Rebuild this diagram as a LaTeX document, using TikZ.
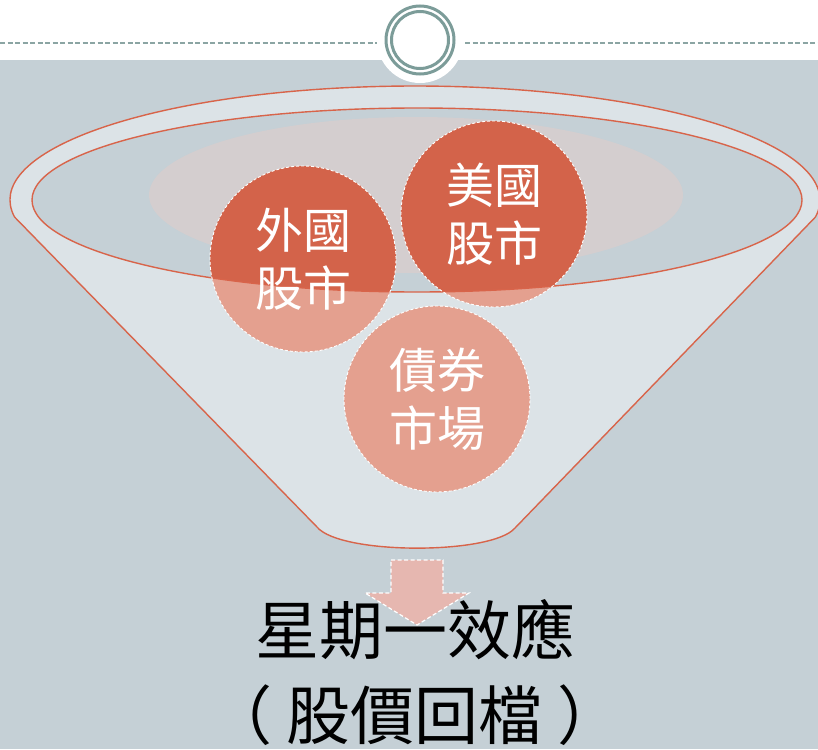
\documentclass[tikz,border=0pt]{standalone}
\usepackage{fontspec}
\newfontfamily\cjk{Noto Sans CJK TC}
\definecolor{bgcol}{HTML}{C5D0D6}
\definecolor{funnelfill}{HTML}{DCE3E7}
\definecolor{funnelline}{HTML}{D8644A}
\definecolor{glowcol}{HTML}{D4CECF}
\definecolor{darkbubble}{HTML}{D3634A}
\definecolor{lightbubble}{HTML}{E4A08F}
\definecolor{arrowcol}{HTML}{E6B7B0}
\definecolor{ringcol}{HTML}{7C9C99}
\definecolor{dashcol}{HTML}{8BA5A3}
\begin{document}
\begin{tikzpicture}[x=1pt,y=-1pt,
  topdash/.style={draw=dashcol,line width=1.5pt,dash pattern=on 5pt off 2.5pt},
  ringline/.style={draw=ringcol,line width=3pt},
  rimline/.style={draw=funnelline,line width=1.4pt},
  bubble/.style={circle,minimum size=186pt,inner sep=0pt,draw=white,line width=0.9pt,
    dash pattern=on 3pt off 2pt,text=white,align=center,
    font=\cjk\fontsize{48}{58}\selectfont},
  whitedash/.style={draw=white,line width=1.2pt,dash pattern=on 4pt off 2.5pt}]
\useasboundingbox (0,0) rectangle (818,749);
% page background
\fill[white] (0,0) rectangle (818,749);
\fill[bgcol] (0,60) rectangle (818,749);
% header rule and medallion
\draw[topdash] (0,43) -- (818,43);
\fill[white] (420,40) circle (43);
\draw[ringline] (420,40) circle (34);
\draw[ringline] (420,40) circle (28.5);
% bubble centres
\coordinate (cW) at (303,259);
\coordinate (cU) at (494,214);
\coordinate (cB) at (437,399);
% funnel body
\draw[rimline,fill=funnelfill] (415,200) ++(171.4:405 and 114)
  arc[start angle=171.4,end angle=368.6,x radius=405,y radius=114]
  -- (515,528) .. controls (492,555) and (340,555) .. (317,527) -- cycle;
% funnel mouth
\fill[bgcol] (417,200) ellipse[x radius=385,y radius=92];
\begin{scope}
  \clip (417,200) ellipse[x radius=385,y radius=92];
  \fill[glowcol] (416,195) ellipse[x radius=267,y radius=78];
\end{scope}
% bubble fills: pale where the funnel body is in front, strong inside the mouth
\fill[lightbubble] (cW) circle (93);
\fill[lightbubble] (cU) circle (93);
\fill[lightbubble] (cB) circle (93);
\begin{scope}
  \clip (417,200) ellipse[x radius=385,y radius=92];
  \fill[darkbubble] (cW) circle (93);
  \fill[darkbubble] (cU) circle (93);
  \fill[darkbubble] (cB) circle (93);
\end{scope}
\draw[rimline] (417,200) ellipse[x radius=385,y radius=92];
% bubbles
\node[bubble] (foreign) at (cW) {外國\\股市};
\node[bubble] (us) at (cU) {美國\\股市};
\node[bubble] (bond) at (cB) {債券\\市場};
% outlet arrow
\filldraw[fill=arrowcol,whitedash] (391,560) -- (443,560) -- (443,593) -- (469,593)
  -- (417,625) -- (365,593) -- (391,593) -- cycle;
% result
\node[align=center,inner sep=0pt,text=black,font=\cjk\fontsize{64}{85}\selectfont]
  (result) at (415,673) {星期一效應\\（\kern15pt股價回檔\kern15pt）};
\end{tikzpicture}
\end{document}
